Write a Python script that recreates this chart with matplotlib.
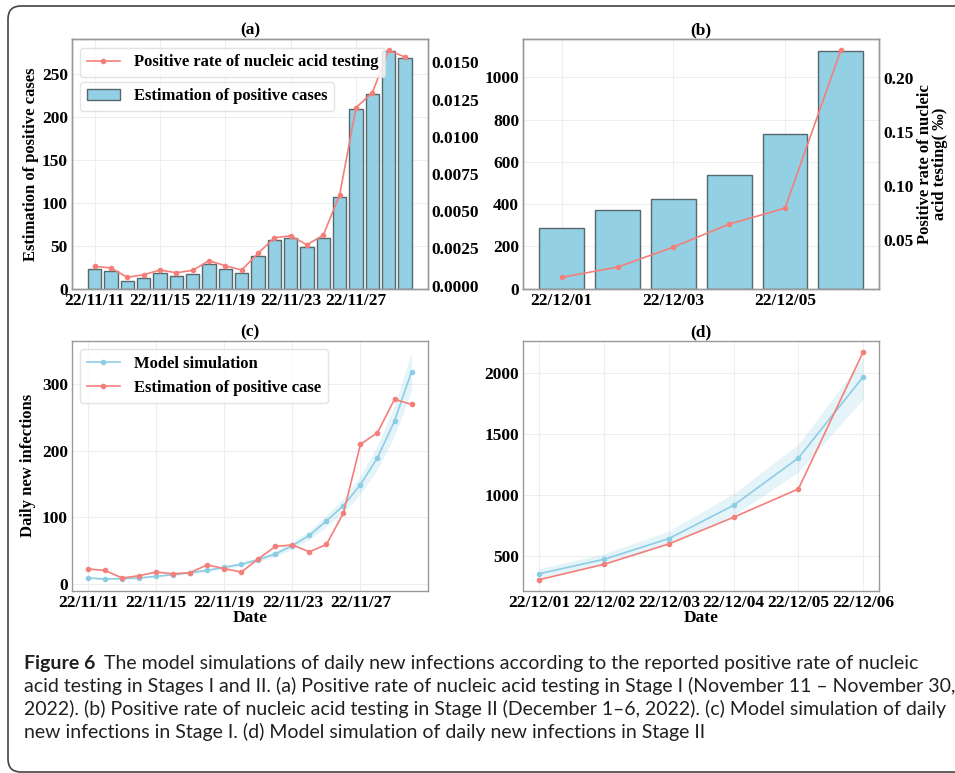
import matplotlib
matplotlib.use("Agg")
import matplotlib.pyplot as plt
from matplotlib.patches import FancyBboxPatch

# Stage I (22/11/11 - 22/11/30)
cases_1 = [22.5, 20.2, 8.9, 12.4, 17.9, 15.1, 17.1, 28.7, 22.9, 17.9,
           37.7, 56.3, 58.6, 48.1, 59.4, 106.4, 209.6, 227.1, 277.2, 269.4]
rate_1 = [0.00130, 0.00119, 0.00056, 0.00074, 0.00105, 0.00087, 0.00103, 0.00168, 0.00134, 0.00105,
          0.00217, 0.00322, 0.00335, 0.00275, 0.00340, 0.00611, 0.01196, 0.01297, 0.01581, 0.01536]
model_1 = [9, 7.5, 8, 9, 11.5, 14, 17, 20.5, 25, 29.5,
           36.5, 45, 57.5, 73, 94.5, 117.5, 149, 189.5, 244.5, 318.5]
lower_1 = [8, 6.5, 7, 8, 10.5, 12.5, 15.5, 18.5, 22.5, 27,
           33.5, 41, 52.5, 66.5, 86, 107, 135, 172, 222, 290]
upper_1 = [10, 8.5, 9, 10, 12.5, 15.5, 18.5, 22.5, 27.5, 32.5,
           40, 49.5, 63, 80, 103.5, 129, 163, 208, 268, 348]
ticks_1 = [0, 4, 8, 12, 16]
labels_1 = ['22/11/11', '22/11/15', '22/11/19', '22/11/23', '22/11/27']

# Stage II (22/12/01 - 22/12/06)
cases_2 = [287, 371, 423, 538, 732, 1125]
rate_2 = [0.0159, 0.0254, 0.0439, 0.0651, 0.0799, 0.2258]
est_2 = [303, 429, 596, 815, 1047, 2170]
model_2 = [352, 470, 640, 913, 1301, 1966]
lower_2 = [311, 429, 593, 830, 1186, 1785]
upper_2 = [393, 516, 702, 1009, 1414, 2120]
labels_2 = ['22/12/01', '22/12/02', '22/12/03', '22/12/04', '22/12/05', '22/12/06']

yticks_a = [0, 50, 100, 150, 200, 250]
rticks_a = [0.0, 0.0025, 0.005, 0.0075, 0.01, 0.0125, 0.015]
yticks_b = [0, 200, 400, 600, 800, 1000]
rticks_b = [0.05, 0.10, 0.15, 0.20]
yticks_c = [0, 100, 200, 300]
yticks_d = [500, 1000, 1500, 2000]

caption = [
    "The model simulations of daily new infections according to the reported positive rate of nucleic",
    "acid testing in Stages I and II. (a) Positive rate of nucleic acid testing in Stage I (November 11 \u2013 November 30,",
    "2022). (b) Positive rate of nucleic acid testing in Stage II (December 1\u20136, 2022). (c) Model simulation of daily",
    "new infections in Stage I. (d) Model simulation of daily new infections in Stage II",
]

RED = '#f47f7a'
BLUE = '#8ccde6'
BAR = '#94d0e4'
BAR_EDGE = '#56676e'
SPINE = '#999999'
GRID = '#eeeeee'

plt.rcParams['font.family'] = ['Liberation Serif', 'DejaVu Serif']
plt.rcParams['font.weight'] = 'bold'
plt.rcParams['axes.labelweight'] = 'bold'
plt.rcParams['axes.titleweight'] = 'bold'
plt.rcParams['font.size'] = 12

TICK = 12.5
LAB = 12

W, H = 955, 773
fig = plt.figure(figsize=(W / 100, H / 100), dpi=100)


def rect(l, t, r, b):
    return [l / W, 1 - b / H, (r - l) / W, (b - t) / H]


def style(ax, grid=True):
    for s in ax.spines.values():
        s.set_color(SPINE)
        s.set_linewidth(1.0)
    ax.tick_params(length=0, pad=3, labelsize=TICK)
    if grid:
        ax.grid(True, color=GRID, lw=0.8)
        ax.set_axisbelow(True)
    else:
        ax.grid(False)


# border round the whole figure
bg = fig.add_axes([0, 0, 1, 1])
bg.set_xlim(0, W)
bg.set_ylim(H, 0)
bg.axis('off')
bg.add_patch(FancyBboxPatch((8, 6), 965, 766, boxstyle='round,pad=0,rounding_size=13',
                            fc='none', ec='#444444', lw=1.2))

leg_kw = dict(fontsize=LAB, handlelength=2.0, handletextpad=0.85, borderaxespad=0,
              framealpha=0.8, edgecolor='#dddddd', borderpad=0.4)

# (a)
ax = fig.add_axes(rect(72, 39, 427.7, 288.7))
x1 = list(range(len(cases_1)))
bars = ax.bar(x1, cases_1, width=0.8, color=BAR, edgecolor=BAR_EDGE, lw=1.0,
              label='Estimation of positive cases')
ax.set_yticks(yticks_a)
ax.set_xticks(ticks_1)
ax.set_xticklabels(labels_1)
ax.set_ylabel('Estimation of positive cases', fontsize=LAB, labelpad=2)
ax.set_title('(a)', fontsize=TICK, pad=3)
style(ax)
ax2 = ax.twinx()
line, = ax2.plot(x1, rate_1, color=RED, marker='o', ms=3, lw=1.2,
                 label='Positive rate of nucleic acid testing')
ax2.set_yticks(rticks_a)
ax2.set_yticklabels(['%.4f' % v for v in rticks_a])
style(ax2, grid=False)
l1 = ax2.legend(handles=[line], loc='upper left', bbox_to_anchor=(0.0225, 0.965), **leg_kw)
ax2.add_artist(l1)
ax2.legend(handles=[bars], loc='upper left', bbox_to_anchor=(0.0225, 0.829), **leg_kw)

# (b)
ax = fig.add_axes(rect(523.3, 39, 879.3, 288.7))
x2 = list(range(len(cases_2)))
ax.bar(x2, cases_2, width=0.8, color=BAR, edgecolor=BAR_EDGE, lw=1.0)
ax.set_yticks(yticks_b)
ax.set_xticks(x2[::2])
ax.set_xticklabels(labels_2[::2])
ax.set_title('(b)', fontsize=TICK, pad=3)
style(ax)
ax2 = ax.twinx()
ax2.plot(x2, rate_2, color=RED, marker='o', ms=3, lw=1.2)
ax2.set_yticks(rticks_b)
ax2.set_yticklabels(['%.2f' % v for v in rticks_b])
ax2.set_ylabel('Positive rate of nucleic\nacid testing( \u2030)', fontsize=LAB, labelpad=2,
               linespacing=0.95)
style(ax2, grid=False)

# (c)
ax = fig.add_axes(rect(72, 340.7, 427.7, 591))
ax.fill_between(x1, lower_1, upper_1, color=BLUE, alpha=0.22, lw=0)
ax.plot(x1, model_1, color=BLUE, marker='o', ms=3, lw=1.2, label='Model simulation')
ax.plot(x1, cases_1, color=RED, marker='o', ms=3, lw=1.2, label='Estimation of positive case')
ax.set_yticks(yticks_c)
ax.set_xticks(ticks_1)
ax.set_xticklabels(labels_1)
ax.set_xlabel('Date', fontsize=TICK, labelpad=-1)
ax.set_ylabel('Daily new infections', fontsize=LAB, labelpad=4)
ax.set_title('(c)', fontsize=TICK, pad=3)
style(ax)
ax.legend(loc='upper left', bbox_to_anchor=(0.0225, 0.966), **leg_kw)

# (d)
ax = fig.add_axes(rect(523.3, 340.7, 879.3, 591))
ax.fill_between(x2, lower_2, upper_2, color=BLUE, alpha=0.22, lw=0)
ax.plot(x2, model_2, color=BLUE, marker='o', ms=3, lw=1.2)
ax.plot(x2, est_2, color=RED, marker='o', ms=3, lw=1.2)
ax.set_yticks(yticks_d)
ax.set_xticks(x2)
ax.set_xticklabels(labels_2)
ax.set_xlabel('Date', fontsize=TICK, labelpad=-1)
ax.set_title('(d)', fontsize=TICK, pad=3)
style(ax)

# caption
cap_kw = dict(family=['Lato', 'DejaVu Sans'], fontsize=14, color='#231f20', va='center')
ys = [663, 686, 709, 732]
head = fig.text(24 / W, 1 - ys[0] / H, 'Figure 6', fontweight='bold', **cap_kw)
fig.canvas.draw()
bb = head.get_window_extent()
fig.text((bb.x1 + 9) / W, 1 - ys[0] / H, caption[0], fontweight='normal', **cap_kw)
for y, txt in zip(ys[1:], caption[1:]):
    fig.text(24 / W, 1 - y / H, txt, fontweight='normal', **cap_kw)

fig.savefig('out.png', dpi=100)
